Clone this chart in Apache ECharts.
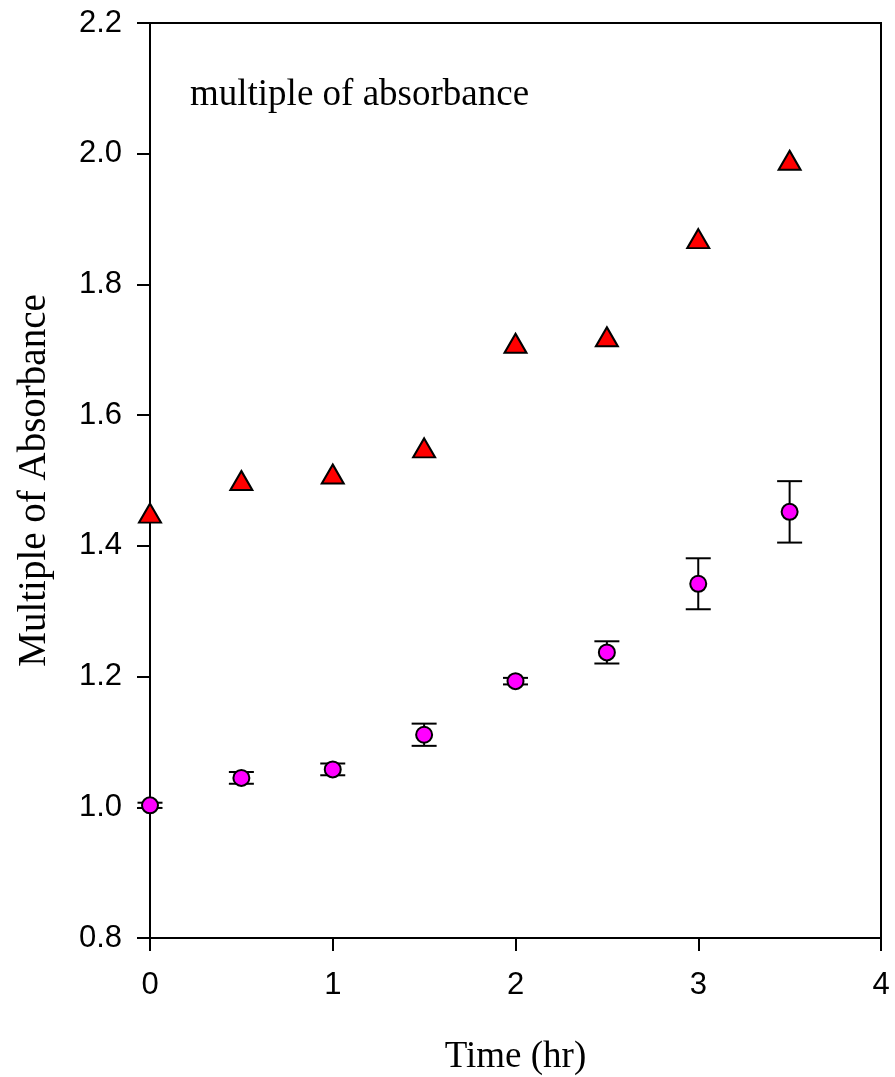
<!DOCTYPE html>
<html>
<head>
<meta charset="utf-8">
<script src="https://cdn.jsdelivr.net/npm/echarts@6/dist/echarts.min.js"></script>
<style>html,body{margin:0;padding:0;background:#fff}#c{width:895px;height:1077px}</style>
</head>
<body>
<div id="c"></div>
<script>
var times = [0, 0.5, 1, 1.5, 2, 2.5, 3, 3.5];
var triangleValues = [1.45, 1.50, 1.51, 1.55, 1.71, 1.72, 1.87, 1.99];
var circleValues = [1.003, 1.045, 1.058, 1.111, 1.193, 1.237, 1.342, 1.452];
var circleErrors = [0.004, 0.009, 0.009, 0.017, 0.005, 0.017, 0.039, 0.047];
var xTicks = [0, 1, 2, 3, 4];
var yTicks = [0.8, 1.0, 1.2, 1.4, 1.6, 1.8, 2.0, 2.2];

var chart = echarts.init(document.getElementById('c'));
var errData = times.map(function (t, i) {
  return [t, circleValues[i] - circleErrors[i], circleValues[i] + circleErrors[i]];
});
chart.setOption({
  animation: false,
  grid: { left: 150, right: 14, top: 23, bottom: 139, containLabel: false, outerBoundsMode: 'none', show: true, borderColor: '#000', borderWidth: 2, backgroundColor: 'transparent' },
  xAxis: {
    type: 'value', min: xTicks[0], max: xTicks[xTicks.length - 1], interval: 1,
    name: 'Time (hr)', nameLocation: 'middle', nameGap: 101,
    nameTextStyle: { fontFamily: 'Liberation Serif', fontSize: 37, color: '#000' },
    axisLine: { onZero: false, lineStyle: { color: '#000', width: 2 } },
    axisTick: { inside: false, length: 13, lineStyle: { color: '#000', width: 2 } },
    axisLabel: { margin: 32, fontFamily: 'Liberation Sans', fontSize: 31, color: '#000' },
    splitLine: { show: false }
  },
  yAxis: {
    type: 'value', min: yTicks[0], max: yTicks[yTicks.length - 1], interval: 0.2,
    name: 'Multiple of Absorbance', nameLocation: 'middle', nameGap: 96,
    nameTextStyle: { fontFamily: 'Liberation Serif', fontSize: 39, color: '#000' },
    axisLine: { onZero: false, lineStyle: { color: '#000', width: 2 } },
    axisTick: { inside: false, length: 13, lineStyle: { color: '#000', width: 2 } },
    axisLabel: { margin: 28, fontFamily: 'Liberation Sans', fontSize: 31, color: '#000', formatter: function (v) { return v.toFixed(1); } },
    splitLine: { show: false }
  },
  graphic: [{
    type: 'text', left: 190, top: 77,
    style: { text: 'multiple of absorbance', font: '37px "Liberation Serif"', fill: '#000' }
  }],
  series: [
    {
      type: 'custom', z: 1,
      data: errData,
      renderItem: function (params, api) {
        var x = api.value(0);
        var lo = api.coord([x, api.value(1)]);
        var hi = api.coord([x, api.value(2)]);
        var hw = 12.5;
        var st = { stroke: '#000', lineWidth: 2 };
        return {
          type: 'group',
          children: [
            { type: 'line', shape: { x1: lo[0], y1: lo[1], x2: hi[0], y2: hi[1] }, style: st },
            { type: 'line', shape: { x1: lo[0] - hw, y1: lo[1], x2: lo[0] + hw, y2: lo[1] }, style: st },
            { type: 'line', shape: { x1: hi[0] - hw, y1: hi[1], x2: hi[0] + hw, y2: hi[1] }, style: st }
          ]
        };
      }
    },
    {
      type: 'scatter', z: 3,
      data: times.map(function (t, i) { return [t, circleValues[i]]; }),
      symbol: 'circle', symbolSize: 16,
      itemStyle: { color: '#FF00FF', borderColor: '#000', borderWidth: 2, opacity: 1 }
    },
    {
      type: 'scatter', z: 3,
      data: times.map(function (t, i) { return [t, triangleValues[i]]; }),
      symbol: 'triangle', symbolSize: [22, 19],
      itemStyle: { color: '#FF0000', borderColor: '#000', borderWidth: 2, opacity: 1 }
    }
  ]
});
</script>
</body>
</html>
